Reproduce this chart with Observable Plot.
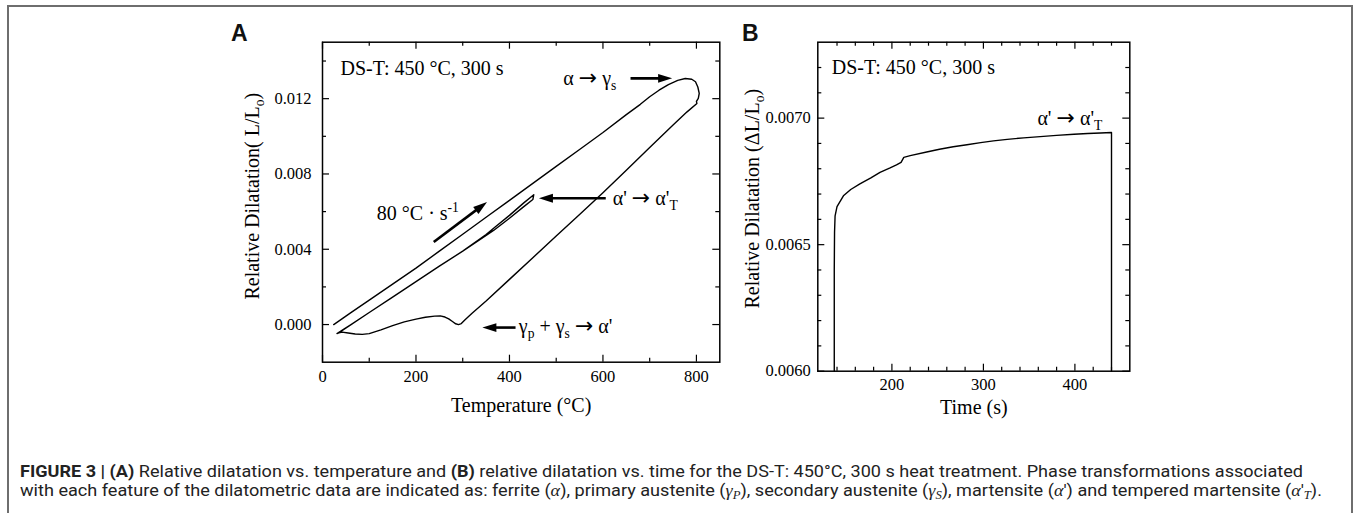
<!DOCTYPE html>
<html><head><meta charset="utf-8">
<script src="https://cdn.jsdelivr.net/npm/d3@7"></script>
<script src="https://cdn.jsdelivr.net/npm/@observablehq/plot@0.6"></script>
<style>
html,body{margin:0;padding:0;background:#fff;}
#root{position:relative;width:1354px;height:513px;overflow:hidden;background:#fff;}
#box{position:absolute;left:7px;top:5px;width:1346px;height:530px;border:2px solid #6e6e6e;box-sizing:border-box;}
.panel{position:absolute;top:0;}
.letter{position:absolute;font-family:"Liberation Sans",Arial,sans-serif;font-weight:bold;font-size:23px;line-height:23px;color:#111;}
.cap{position:absolute;left:20px;white-space:nowrap;font-family:Roboto,"Liberation Sans",sans-serif;font-size:16.5px;line-height:18px;color:#222;transform-origin:0 50%;}
.cap i.g{font-family:"Liberation Serif",serif;font-style:italic;}
.cap sub{font-size:0.7em;line-height:0;vertical-align:-0.25em;}
</style></head>
<body><div id="root">
<div id="box"></div>
<div class="letter" style="left:231px;top:22px">A</div>
<div class="letter" style="left:742px;top:22px">B</div>
<div id="pA" class="panel" style="left:220px"></div>
<div id="pB" class="panel" style="left:740px"></div>
<div class="cap" id="cap1" style="top:463px"><b>FIGURE 3 | (A)</b> Relative dilatation vs. temperature and <b>(B)</b> relative dilatation vs. time for the DS-T: 450°C, 300 s heat treatment. Phase transformations associated</div>
<div class="cap" id="cap2" style="top:482px">with each feature of the dilatometric data are indicated as: ferrite (<i class="g">α</i>), primary austenite (<i class="g">γ<sub>P</sub></i>), secondary austenite (<i class="g">γ<sub>S</sub></i>), martensite (<i class="g">α</i>′) and tempered martensite (<i class="g">α</i>′<sub><i class="g">T</i></sub>).</div>
</div>
<script>
// ---------- Panel A: relative dilatation vs temperature (one thermal cycle, in order) ----------
const tempA = [24, 60, 100, 150, 200, 250, 300, 350, 400, 450, 500, 550, 600, 650, 680, 700, 720, 740, 760, 776, 790, 798, 803, 806, 804, 800, 801,
  780, 750, 700, 650, 600, 550, 500, 450, 400, 350, 320, 305, 297, 291, 285, 278, 270, 262, 252, 240, 220, 200, 175, 150, 125, 100, 85, 70, 55, 42, 35, 31,
  45, 61, 100, 150, 200, 250, 300, 366, 400, 430, 450, 452, 430, 400, 370, 350, 300, 250, 200, 150, 100, 61, 40];
const dilA = [0.0000, 0.00062, 0.0013, 0.00215, 0.0030, 0.0039, 0.0048, 0.0057, 0.0066, 0.0075, 0.0084, 0.0093, 0.0102, 0.01115, 0.0117, 0.0121, 0.01245, 0.01275, 0.01297, 0.01307, 0.01303, 0.0129, 0.01262, 0.01228, 0.01201, 0.01186, 0.01174,
  0.0113, 0.0106, 0.0094, 0.0082, 0.0070, 0.00585, 0.0047, 0.00355, 0.0024, 0.00125, 0.0006, 0.00025, 0.00005, 0.0, 0.00004, 0.00016, 0.0003, 0.0004, 0.00046, 0.00045, 0.00039, 0.00029, 0.00014, -0.00006, -0.00028, -0.00048, -0.00052, -0.0005, -0.00045, -0.0004, -0.00044, -0.00048,
  -0.00025, 0.0, 0.00064, 0.00146, 0.00228, 0.0031, 0.0039, 0.0050, 0.00565, 0.00625, 0.00664, 0.0069, 0.00645, 0.0058, 0.0052, 0.00478, 0.0039, 0.0031, 0.00228, 0.00146, 0.00064, 0.0, -0.00035];

// ---------- Panel B: relative dilatation vs time ----------
const timeB = [137, 137, 137.3, 137.9, 140, 147, 155, 165, 177, 187, 198, 205, 210, 213, 220, 238, 252, 267, 282, 297, 311, 326, 344, 362, 380, 399, 414, 428, 440, 440];
const dilB = [0.0060, 0.0064, 0.00655, 0.006614, 0.00665, 0.006693, 0.006718, 0.00674, 0.006764, 0.006786, 0.006803, 0.006815, 0.006825, 0.006845, 0.006852, 0.006866, 0.006877, 0.006887, 0.006895, 0.006903, 0.00691, 0.006916, 0.006922, 0.006927, 0.006932, 0.006936, 0.006939, 0.006941, 0.006943, 0.0060];

// ---------- ticks ----------
const xTicksA = [0, 200, 400, 600, 800];
const xMinorA = [100, 300, 500, 700];
const yTicksA = [0.000, 0.004, 0.008, 0.012];
const yMinorA = [0.002, 0.006, 0.010, 0.014];
const xTicksB = [200, 300, 400];
const xMinorB = [140, 160, 180, 220, 240, 260, 280, 320, 340, 360, 380, 420, 440];
const yTicksB = [0.0060, 0.0065, 0.0070];
const yMinorB = [0.0061, 0.0062, 0.0063, 0.0064, 0.0066, 0.0067, 0.0068, 0.0069, 0.0071, 0.0072];

// ---------- texts ----------
const xTitleA = "Temperature (°C)";
const yTitleA = "Relative Dilatation( L/L_{o})";
const xTitleB = "Time (s)";
const yTitleB = "Relative Dilatation (ΔL/L_{o})";
const notesA = [
  {x: 38.5, y: 0.0136, text: "DS-T: 450 °C, 300 s", anchor: "start"},
  {x: 515, y: 0.01308, text: "α → γ_{s}", anchor: "start"},
  {x: 204, y: 0.0059, text: "80 °C · s^{-1}", anchor: "middle"},
  {x: 621, y: 0.00671, text: "α' → α'_{T}", anchor: "start"},
  {x: 420, y: -0.00012, text: "γ_{p} + γ_{s} → α'", anchor: "start"}
];
const notesB = [
  {x: 134.3, y: 0.0072, text: "DS-T: 450 °C, 300 s", anchor: "start"},
  {x: 359, y: 0.0070, text: "α' → α'_{T}", anchor: "start"}
];
const arrowsA = [
  {x1: 659, y1: 0.01308, x2: 748, y2: 0.01308},
  {x1: 238, y1: 0.00439, x2: 352, y2: 0.00651},
  {x1: 606, y1: 0.00671, x2: 463, y2: 0.00671},
  {x1: 413, y1: -0.00016, x2: 342, y2: -0.00016}
];

const pointsA = tempA.map((t, i) => ({x: t, y: dilA[i]}));
const pointsB = timeB.map((t, i) => ({x: t, y: dilB[i]}));

const serif = "'Liberation Serif', 'Times New Roman', serif";
const headSymbol = {draw(ctx) { ctx.moveTo(0, 0); ctx.lineTo(-4.4, 14); ctx.lineTo(4.4, 14); ctx.closePath(); }};

function arrowParts(arrows, cfg) {
  const sx = Plot.scale({x: {domain: cfg.xDomain, range: [cfg.ml, cfg.width - cfg.mr]}});
  const sy = Plot.scale({y: {domain: cfg.yDomain, range: [cfg.height - cfg.mb, cfg.mt]}});
  return arrows.map(a => {
    const px1 = sx.apply(a.x1), py1 = sy.apply(a.y1), px2 = sx.apply(a.x2), py2 = sy.apply(a.y2);
    const len = Math.hypot(px2 - px1, py2 - py1);
    const f = Math.max(0, (len - 9) / len);
    return {...a, sx2: a.x1 + (a.x2 - a.x1) * f, sy2: a.y1 + (a.y2 - a.y1) * f,
      angle: Math.atan2(py2 - py1, px2 - px1) * 180 / Math.PI + 90};
  });
}

function makePanel(cfg, d) {
  const ih = cfg.height - cfg.mt - cfg.mb, iw = cfg.width - cfg.ml - cfg.mr;
  const heads = arrowParts(d.arrows || [], cfg);
  const tk = {stroke: "black", strokeWidth: 1.2};
  const ft = {fontFamily: serif, fill: "black"};
  return Plot.plot({
    width: cfg.width, height: cfg.height,
    marginLeft: cfg.ml, marginRight: cfg.mr, marginTop: cfg.mt, marginBottom: cfg.mb,
    x: {domain: cfg.xDomain, axis: null},
    y: {domain: cfg.yDomain, axis: null},
    style: {fontFamily: serif, fontSize: "16.5px", color: "black", background: "transparent", overflow: "visible"},
    marks: [
      Plot.line(d.points, {x: "x", y: "y", stroke: "black", strokeWidth: 1.4}),
      Plot.tickX(d.xMajor, {x: v => v, insetTop: ih - 7, ...tk}),
      Plot.tickX(d.xMajor, {x: v => v, insetBottom: ih - 7, ...tk}),
      Plot.tickX(d.xMinor, {x: v => v, insetTop: ih - 4, ...tk}),
      Plot.tickX(d.xMinor, {x: v => v, insetBottom: ih - 4, ...tk}),
      Plot.tickY(d.yMajor, {y: v => v, insetRight: iw - 7, ...tk}),
      Plot.tickY(d.yMajor, {y: v => v, insetLeft: iw - 7, ...tk}),
      Plot.tickY(d.yMinor, {y: v => v, insetRight: iw - 4, ...tk}),
      Plot.tickY(d.yMinor, {y: v => v, insetLeft: iw - 4, ...tk}),
      Plot.axisX(d.xMajor, {tickSize: 0, tickPadding: cfg.xPad, tickFormat: d.xFmt, fontSize: 16.5, label: null, ...ft}),
      Plot.axisY(d.yMajor, {tickSize: 0, tickPadding: cfg.yPad, tickFormat: d.yFmt, fontSize: 16.5, label: null, ...ft}),
      Plot.frame({stroke: "black", strokeWidth: 1.5}),
      Plot.text([d.xTitle], {text: t => t, frameAnchor: "bottom", textAnchor: "middle", dy: cfg.xTitleDy, fontSize: 20, ...ft}),
      Plot.text([d.yTitle], {text: t => t, frameAnchor: "left", textAnchor: "middle", dx: cfg.yTitleDx, dy: cfg.yTitleDy, rotate: -90, fontSize: 20, ...ft}),
      Plot.text(d.notes.filter(n => n.anchor === "start"), {x: "x", y: "y", text: "text", textAnchor: "start", fontSize: 20, ...ft}),
      Plot.text(d.notes.filter(n => n.anchor === "middle"), {x: "x", y: "y", text: "text", textAnchor: "middle", fontSize: 20, ...ft}),
      Plot.link(heads, {x1: "x1", y1: "y1", x2: "sx2", y2: "sy2", stroke: "black", strokeWidth: 2.6}),
      Plot.dot(heads, {x: "x2", y: "y2", symbol: headSymbol, rotate: "angle", fill: "black", stroke: "none", r: 4})
    ]
  });
}

// sub/superscripts (_{..}, ^{..}) and a wider arrow glyph, as tspans of the same text element
function richText(svg) {
  const NS = "http://www.w3.org/2000/svg";
  svg.querySelectorAll("text").forEach(t => {
    if (t.querySelector("tspan")) return;
    const s = t.textContent;
    if (!/[_^]\{|→/.test(s)) return;
    const fs = parseFloat(getComputedStyle(t).fontSize) || 20;
    t.textContent = "";
    const re = /([_^])\{([^}]*)\}|→/g;
    let last = 0, m;
    const add = (str, kind) => {
      const ts = document.createElementNS(NS, "tspan");
      ts.textContent = str;
      if (kind === "_" || kind === "^") {
        ts.setAttribute("font-size", (fs * 0.68).toFixed(2));
        ts.setAttribute("baseline-shift", kind === "_" ? (-0.27 * fs).toFixed(2) : (0.4 * fs).toFixed(2));
      } else if (kind === "arrow") {
        ts.setAttribute("font-family", "'DejaVu Sans', sans-serif");
        ts.setAttribute("font-size", (fs * 1.1).toFixed(2));
        ts.setAttribute("baseline-shift", (-0.02 * fs).toFixed(2));
      }
      t.appendChild(ts);
    };
    while ((m = re.exec(s))) {
      if (m.index > last) add(s.slice(last, m.index));
      if (m[0] === "→") add("→", "arrow"); else add(m[2], m[1]);
      last = re.lastIndex;
    }
    if (last < s.length) add(s.slice(last));
  });
}

const cfgA = {width: 530, height: 430, ml: 102, mr: 30.7, mt: 41.7, mb: 68.3, xDomain: [0, 850], yDomain: [-0.002, 0.015],
  xPad: 8, yPad: 11, xTitleDy: 50, yTitleDx: -70, yTitleDy: -6};
const cfgB = {width: 420, height: 430, ml: 77.3, mr: 30.7, mt: 41.7, mb: 59.3, xDomain: [119, 460], yDomain: [0.0060, 0.0073],
  xPad: 7.5, yPad: 7, xTitleDy: 42.6, yTitleDx: -65, yTitleDy: -8};

const svgA = makePanel(cfgA, {points: pointsA, xMajor: xTicksA, xMinor: xMinorA, yMajor: yTicksA, yMinor: yMinorA,
  xFmt: d3.format("d"), yFmt: d3.format(".3f"), xTitle: xTitleA, yTitle: yTitleA, notes: notesA, arrows: arrowsA});
const svgB = makePanel(cfgB, {points: pointsB, xMajor: xTicksB, xMinor: xMinorB, yMajor: yTicksB, yMinor: yMinorB,
  xFmt: d3.format("d"), yFmt: d3.format(".4f"), xTitle: xTitleB, yTitle: yTitleB, notes: notesB, arrows: []});
document.getElementById("pA").appendChild(svgA);
document.getElementById("pB").appendChild(svgB);
richText(svgA); richText(svgB);

// fit caption lines to their widths (horizontal condensing like the reference face)
function fit(id, target) {
  const el = document.getElementById(id);
  const w = el.getBoundingClientRect().width;
  el.style.transform = "scaleX(" + (target / w).toFixed(4) + ")";
}
fit("cap1", 1283);
fit("cap2", 1302);
</script>
</body></html>
